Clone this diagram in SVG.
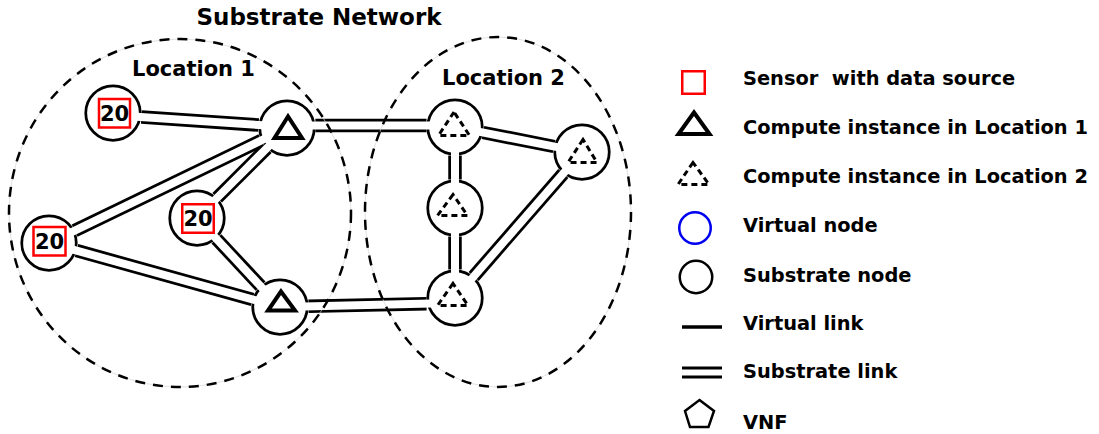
<svg xmlns="http://www.w3.org/2000/svg" width="1099" height="434" viewBox="0 0 1099 434">
  <style>
    text { font-family: "DejaVu Sans", "Liberation Sans", sans-serif; font-weight: bold; fill: #000; }
    .title { font-size: 23px; }
    .loc { font-size: 21px; }
    .num { font-size: 21px; text-anchor: middle; }
    .leg { font-size: 19.4px; white-space: pre; }
    .node { fill: #fff; stroke: #000; stroke-width: 2.75; }
    .casing { stroke: #000; stroke-width: 13.5; stroke-linecap: butt; fill: none; }
    .core { stroke: #fff; stroke-width: 8; stroke-linecap: butt; fill: none; }
    .tri { fill: none; stroke: #000; stroke-width: 4; stroke-linejoin: miter; }
    .tri-dash { fill: none; stroke: #000; stroke-width: 3; stroke-dasharray: 6 4; stroke-linejoin: miter; }
    .sensor { fill: none; stroke: #f00; stroke-width: 2.5; }
    .area-thin { fill: none; stroke: #d4d4d4; stroke-width: 0.7; }
    .area { fill: none; stroke: #000; stroke-width: 2.5; stroke-dasharray: 10 8; }
  </style>

  <!-- Title -->
  <text class="title" x="319" y="25" text-anchor="middle">Substrate Network</text>

  <!-- Substrate nodes: Location 1 -->
  <g id="sensor-top">
    <circle class="node" cx="113" cy="113" r="27.25"/>
    <rect class="sensor" x="99" y="99" width="31" height="28.5"/>
    <text class="num" x="114.5" y="121">20</text>
  </g>
  <g id="compute-l1-top">
    <circle class="node" cx="287" cy="128" r="27.25"/>
    <polygon class="tri" points="288,116.5 274.5,138 302,138"/>
  </g>
  <g id="sensor-mid">
    <circle class="node" cx="197" cy="218" r="27.25"/>
    <rect class="sensor" x="182.25" y="204.25" width="31.5" height="28.5"/>
    <text class="num" x="198" y="226">20</text>
  </g>
  <g id="sensor-left">
    <circle class="node" cx="49" cy="243" r="27.25"/>
    <rect class="sensor" x="33.5" y="227" width="32" height="28.5"/>
    <text class="num" x="49.5" y="249">20</text>
  </g>
  <g id="compute-l1-bottom">
    <circle class="node" cx="280" cy="307" r="27.25"/>
    <polygon class="tri" points="281,291.5 268,310.5 295,310.5"/>
  </g>

  <!-- Substrate nodes: Location 2 -->
  <g id="compute-l2-top">
    <circle class="node" cx="455" cy="127" r="27.25"/>
    <polygon class="tri-dash" points="454,112 438.5,135.5 469.5,135.5"/>
  </g>
  <g id="compute-l2-right">
    <circle class="node" cx="582" cy="152" r="27.25"/>
    <polygon class="tri-dash" points="583,139.5 568,162.5 597,162.5"/>
  </g>
  <g id="compute-l2-mid">
    <circle class="node" cx="455" cy="208" r="27.25"/>
    <polygon class="tri-dash" points="453,194.5 437.5,215.5 467.5,215.5"/>
  </g>
  <g id="compute-l2-bottom">
    <circle class="node" cx="455" cy="298" r="27.25"/>
    <polygon class="tri-dash" points="453,283.5 437.5,305.5 468,305.5"/>
  </g>

  <!-- Substrate links: black casing, then white core opening into the node rings -->
  <g id="connectors">
    <g class="casing">
      <line x1="141.43" y1="116.96" x2="258.57" y2="125.04"/>
      <line x1="74.66" y1="230.60" x2="261.34" y2="140.40"/>
      <line x1="217.15" y1="197.85" x2="266.85" y2="148.15"/>
      <line x1="76.47" y1="250.61" x2="252.53" y2="299.39"/>
      <line x1="216.44" y1="238.84" x2="260.56" y2="286.16"/>
      <line x1="315.39" y1="125.5" x2="426.54" y2="125.5"/>
      <line x1="308.49" y1="306.35" x2="426.51" y2="303.65"/>
      <line x1="455" y1="155.5" x2="455" y2="179.5"/>
      <line x1="455" y1="236.5" x2="455" y2="269.5"/>
      <line x1="482.96" y1="132.50" x2="554.04" y2="146.50"/>
      <line x1="563.30" y1="173.50" x2="473.70" y2="276.50"/>
    </g>
    <g class="core">
      <line x1="136.94" y1="116.65" x2="263.06" y2="125.35"/>
      <line x1="70.61" y1="232.56" x2="265.39" y2="138.44"/>
      <line x1="213.97" y1="201.03" x2="270.03" y2="144.97"/>
      <line x1="72.13" y1="249.41" x2="256.87" y2="300.59"/>
      <line x1="213.37" y1="235.55" x2="263.63" y2="289.45"/>
      <line x1="310.87" y1="125.5" x2="431.05" y2="125.5"/>
      <line x1="303.99" y1="306.45" x2="431.01" y2="303.55"/>
      <line x1="455" y1="151" x2="455" y2="184"/>
      <line x1="455" y1="232" x2="455" y2="274"/>
      <line x1="478.55" y1="131.64" x2="558.45" y2="147.36"/>
      <line x1="566.25" y1="170.11" x2="470.75" y2="279.89"/>
    </g>
  </g>

  <!-- Location areas -->
  <g id="location-1">
    <ellipse class="area-thin" cx="180" cy="213" rx="171" ry="174"/>
    <ellipse class="area" cx="180" cy="213" rx="171" ry="174"/>
    <text class="loc" x="132" y="76">Location 1</text>
  </g>
  <g id="location-2">
    <ellipse class="area-thin" cx="498" cy="212" rx="133" ry="175"/>
    <ellipse class="area" cx="498" cy="212" rx="133" ry="175"/>
    <text class="loc" x="442" y="85">Location 2</text>
  </g>

  <!-- Legend -->
  <g id="legend">
    <rect class="sensor" x="682.25" y="71.25" width="22.5" height="22.5"/>
    <text class="leg" x="743" y="85">Sensor  with data source</text>

    <polygon class="tri" points="694,112.5 678.5,134 709.5,134"/>
    <text class="leg" x="743" y="134">Compute instance in Location 1</text>

    <polygon class="tri-dash" points="693,162.5 678,184.5 709,184.5"/>
    <text class="leg" x="743" y="183">Compute instance in Location 2</text>

    <circle cx="695" cy="228" r="15.75" fill="none" stroke="#0000f0" stroke-width="2.5"/>
    <text class="leg" x="743" y="232">Virtual node</text>

    <circle cx="696" cy="277" r="16.25" fill="none" stroke="#000" stroke-width="2.5"/>
    <text class="leg" x="743" y="282">Substrate node</text>

    <line x1="682" y1="327" x2="722" y2="327" stroke="#000" stroke-width="3.5"/>
    <text class="leg" x="743" y="330">Virtual link</text>

    <line x1="682" y1="368" x2="722" y2="368" stroke="#000" stroke-width="3"/>
    <line x1="682" y1="377" x2="722" y2="377" stroke="#000" stroke-width="3"/>
    <text class="leg" x="743" y="378">Substrate link</text>

    <polygon points="699.5,400 714,411 708.5,427 690,427 685,411" fill="none" stroke="#000" stroke-width="2.5" stroke-linejoin="miter"/>
    <text class="leg" x="743" y="429">VNF</text>
  </g>
</svg>
